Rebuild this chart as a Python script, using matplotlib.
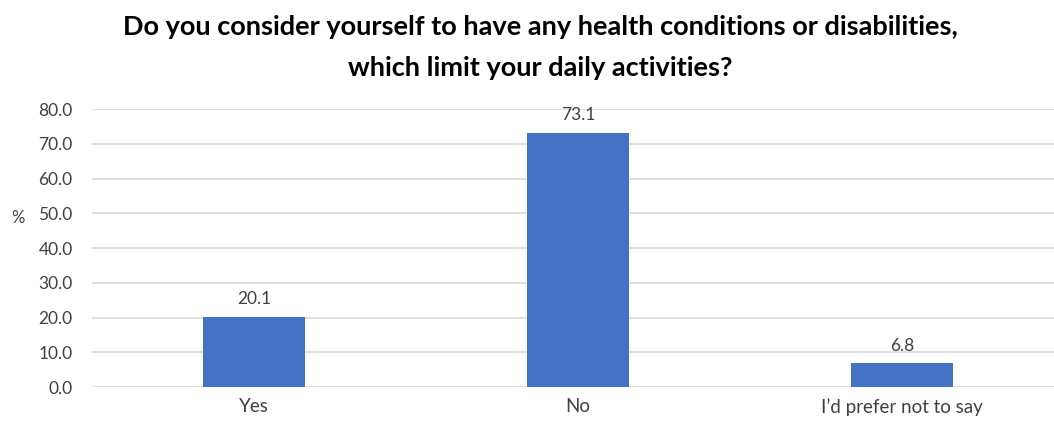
import matplotlib.pyplot as plt

plt.rcParams['font.family'] = ['Lato', 'DejaVu Sans']

# Chart data
categories = ['Yes', 'No', 'I\u2019d prefer not to say']
percentages = [20.1, 73.1, 6.8]
yticks = [0, 10, 20, 30, 40, 50, 60, 70, 80]

W, H = 1054, 423
fig = plt.figure(figsize=(W / 100, H / 100), dpi=100)
ax = fig.add_axes([92 / W, 36 / H, 972 / W, 278 / H])

x = range(len(categories))
bars = ax.bar(x, percentages, width=0.315, color='#4472C4', zorder=3)
for bar, v in zip(bars, percentages):
    ax.annotate(f'{v:.1f}', xy=(bar.get_x() + bar.get_width() / 2, v),
                xytext=(0, 7), textcoords='offset points',
                ha='center', va='bottom', fontsize=12.5, color='#404040')

ax.set_xlim(-0.5, 2.5)
ax.set_ylim(0, 80)
ax.set_yticks(yticks)
ax.set_yticklabels([f'{t:.1f}' for t in yticks])
ax.set_xticks(list(x))
ax.set_xticklabels(categories)
ax.tick_params(axis='both', length=0, labelsize=12.5, labelcolor='#404040')
ax.tick_params(axis='x', labelsize=13.5, pad=8)
ax.tick_params(axis='y', pad=14)
ax.grid(axis='y', color='#D9D9D9', linewidth=1.2, zorder=0)
for s in ax.spines.values():
    s.set_visible(False)

fig.text(18 / W, 1 - 218 / H, '%', ha='center', va='center', fontsize=12, color='#404040')
fig.text(540 / W, 1 - 27 / H, 'Do you consider yourself to have any health conditions or disabilities,',
         ha='center', va='center', fontsize=19.5, fontweight='bold', color='black')
fig.text(540 / W, 1 - 68 / H, 'which limit your daily activities?',
         ha='center', va='center', fontsize=19.5, fontweight='bold', color='black')

fig.savefig('out.png', dpi=100)
